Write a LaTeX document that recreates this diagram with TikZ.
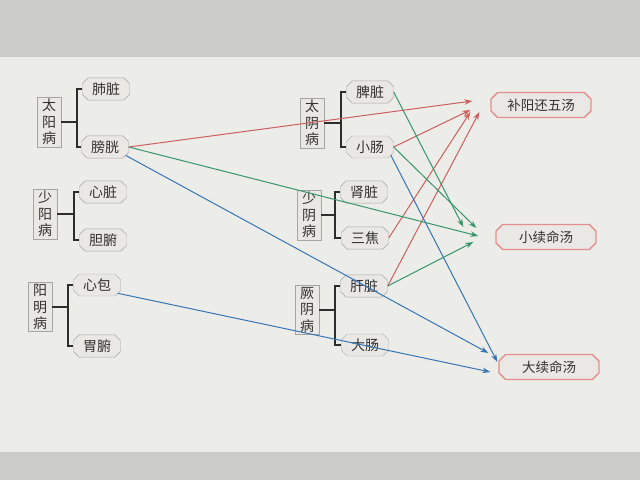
\documentclass[tikz,border=0pt]{standalone}
\usepackage{fontspec}
\setmainfont{Noto Sans CJK SC}
\usetikzlibrary{arrows.meta,shapes.misc}

\definecolor{screen}{RGB}{236,236,233}
\definecolor{bezel}{RGB}{203,203,201}
\definecolor{boxfill}{RGB}{233,232,229}
\definecolor{boxline}{RGB}{165,165,162}
\definecolor{herbline}{RGB}{228,142,142}
\definecolor{bracketcol}{RGB}{45,45,45}
\definecolor{redline}{RGB}{205,95,95}
\definecolor{greenline}{RGB}{55,150,105}
\definecolor{blueline}{RGB}{55,118,182}

\tikzset{
  group/.style={draw=boxline,fill=boxfill,align=center,text=black!80,
    font=\fontsize{14}{16.5}\selectfont,inner xsep=5pt,inner ysep=2pt},
  organ/.style={chamfered rectangle,chamfered rectangle xsep=2pt,draw=boxline,
    fill=boxfill,text=black!80,minimum width=47pt,minimum height=20pt,
    inner sep=1pt,font=\fontsize{14}{16}\selectfont},
  herb/.style={chamfered rectangle,chamfered rectangle xsep=3pt,draw=herbline,
    line width=1.3pt,fill=boxfill,text=black!80,minimum width=100pt,
    minimum height=25pt,inner sep=1pt,font=\fontsize{13.5}{15}\selectfont},
  bracket/.style={draw=bracketcol,line width=1.7pt},
  link/.style={-{Stealth[length=8pt,width=5.5pt]},line width=1pt}
}

\begin{document}
\begin{tikzpicture}[x=1pt,y=-1pt]
  % Photographed screen
  \fill[bezel] (0,0) rectangle (640,480);
  \fill[screen] (0,57) rectangle (640,452);
  \useasboundingbox (0,0) rectangle (640,480);

  % Three yang diseases
  \node[group] (taiyang) at (49,122) {太\\阳\\病};
  \node[organ] (feizang) at (106,89) {肺脏};
  \node[organ] (pangguang) at (105,147) {膀胱};

  \node[group] (shaoyang) at (45,214) {少\\阳\\病};
  \node[organ] (xinzang) at (103,192) {心脏};
  \node[organ] (danfu) at (103,240) {胆腑};

  \node[group] (yangming) at (40,307) {阳\\明\\病};
  \node[organ] (xinbao) at (97,285) {心包};
  \node[organ] (weifu) at (97,346) {胃腑};

  % Three yin diseases
  \node[group] (taiyin) at (312,123) {太\\阴\\病};
  \node[organ] (pizang) at (370,92) {脾脏};
  \node[organ] (xiaochang) at (370,147) {小肠};

  \node[group] (shaoyin) at (309,215) {少\\阴\\病};
  \node[organ] (shenzang) at (364,192) {肾脏};
  \node[organ] (sanjiao) at (365,238) {三焦};

  \node[group] (jueyin) at (307,310) {厥\\阴\\病};
  \node[organ] (ganzang) at (364,286) {肝脏};
  \node[organ] (dachang) at (365,345) {大肠};

  % Decoctions
  \node[herb] (buyang) at (541,105) {补阳还五汤};
  \node[herb] (xiaoxu) at (546,237) {小续命汤};
  \node[herb] (daxu) at (549,367) {大续命汤};

  % Brackets
  \foreach \grp/\top/\bot in {taiyang/feizang/pangguang,shaoyang/xinzang/danfu,
      yangming/xinbao/weifu,taiyin/pizang/xiaochang,shaoyin/shenzang/sanjiao,
      jueyin/ganzang/dachang} {
    \coordinate (\grp-spine) at ([xshift=-5pt]\top.west);
    \draw[bracket] (\top.west) -- (\grp-spine) |- (\bot.west);
    \draw[bracket] (\grp.east) -- (\grp.east -| \grp-spine);
  }

  % Red: to buyang
  \foreach \from/\dx/\dy in {pangguang/-18/-4,xiaochang/-20/5,sanjiao/-20/7,ganzang/-11/7}
    \draw[link,redline] (\from.east) -- ([shift={(\dx,\dy)}]buyang.west);

  % Green: to xiaoxu
  \foreach \from/\dx/\dy in {pizang/-32/-10,xiaochang/-19/-9,pangguang/-17/-1,ganzang/-22/5}
    \draw[link,greenline] (\from.east) -- ([shift={(\dx,\dy)}]xiaoxu.west);

  % Blue: to daxu
  \foreach \from/\dx/\dy in {pangguang/-10/-14,xiaochang/-1/-5,xinbao/-8/5}
    \draw[link,blueline] (\from.south east) -- ([shift={(\dx,\dy)}]daxu.west);
\end{tikzpicture}
\end{document}
